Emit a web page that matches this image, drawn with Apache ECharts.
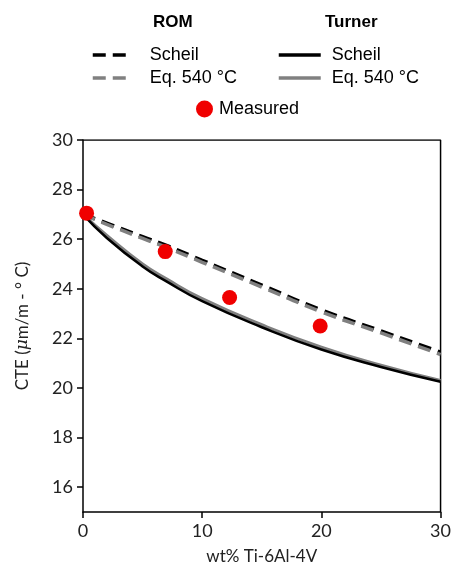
<!DOCTYPE html>
<html>
<head>
<meta charset="utf-8">
<script src="https://cdn.jsdelivr.net/npm/echarts@6/dist/echarts.min.js"></script>
<style>
    html, body { margin: 0; padding: 0; background: #fff; }
    #cte { width: 454px; height: 574px; }
</style>
</head>
<body>
<div id="cte"></div>
<script>
    // wt% Ti-6Al-4V
    const xPts = [0, 2, 5, 7, 10, 15, 20, 25, 30]
    // ROM
    const romScheil = [27.0, 26.65, 26.1, 25.75, 25.15, 24.15, 23.15, 22.3, 21.45]
    const romEq = [27.0, 26.6, 26.03, 25.67, 25.07, 24.07, 23.07, 22.22, 21.35]
    // Turner
    const turnerScheil = [27.0, 26.05, 24.9, 24.3, 23.5, 22.45, 21.55, 20.85, 20.25]
    const turnerEq = [27.0, 26.15, 25.0, 24.4, 23.6, 22.55, 21.65, 20.92, 20.3]
    // Measured
    const measX = [0.3, 6.9, 12.3, 19.9]
    const measY = [27.05, 25.5, 23.65, 22.5]
    const yTicks = [16, 18, 20, 22, 24, 26, 28, 30]

    const pairs = (xs, ys) => xs.map((x, i) => [x, ys[i]])
    const legendFont = {fontFamily: 'Liberation Sans', fontSize: 18, color: '#000'}

    const chart = echarts.init(document.getElementById('cte'))
    const option = {
        animation: false,
        graphic: [
            {type: 'text', left: 153, top: 14, style: {text: 'ROM', font: 'bold 17px "Liberation Sans"', fill: '#000'}},
            {type: 'text', left: 325, top: 14, style: {text: 'Turner', font: 'bold 17px "Liberation Sans"', fill: '#000'}}
        ],
        legend: [
            {
                data: ['ROM Scheil', 'ROM Eq'], orient: 'vertical', left: 86, top: 41,
                itemWidth: 38, itemHeight: 14, itemGap: 5,
                itemStyle: {opacity: 0},
                lineStyle: {width: 3.5},
                formatter: n => n === 'ROM Scheil' ? 'Scheil' : 'Eq. 540 °C',
                textStyle: Object.assign({padding: [0, 0, 0, 14]}, legendFont)
            },
            {
                data: ['Turner Scheil', 'Turner Eq'], orient: 'vertical', left: 272, top: 41,
                itemWidth: 42, itemHeight: 14, itemGap: 5,
                itemStyle: {opacity: 0},
                lineStyle: {width: 3.5},
                formatter: n => n === 'Turner Scheil' ? 'Scheil' : 'Eq. 540 °C',
                textStyle: Object.assign({padding: [0, 0, 0, 6]}, legendFont)
            },
            {
                data: ['Measured'], left: 191, top: 95,
                itemWidth: 17, itemHeight: 17,
                itemStyle: {opacity: 1},
                textStyle: Object.assign({padding: [0, 0, 0, 1]}, legendFont)
            }
        ],
        grid: {left: 83, right: 12, top: 140, bottom: 62},
        xAxis: {
            type: 'value', min: 0, max: 30, interval: 10,
            name: 'wt% Ti-6Al-4V', nameLocation: 'middle', nameGap: 36,
            nameTextStyle: {fontFamily: 'Lato', fontSize: 17, color: '#222'},
            axisLine: {onZero: false, lineStyle: {color: '#000', width: 1.5}},
            axisTick: {show: true, length: 6, lineStyle: {color: '#000', width: 1.5}},
            axisLabel: {fontFamily: 'Lato', fontSize: 18, color: '#222', margin: 10},
            splitLine: {show: false}
        },
        yAxis: {
            type: 'value', min: 15, max: 30, interval: 1,
            name: 'CTE ({i|μ}m/m - ° C)', nameLocation: 'middle', nameGap: 52,
            nameTextStyle: {fontFamily: 'Lato', fontSize: 17, color: '#222',
                rich: {i: {fontFamily: 'DejaVu Serif', fontStyle: 'italic', fontSize: 17, color: '#222'}}},
            axisLine: {lineStyle: {color: '#000', width: 1.5}},
            axisTick: {show: true, length: 6, lineStyle: {color: '#000', width: 1.5},
                customValues: yTicks},
            axisLabel: {fontFamily: 'Lato', fontSize: 18, color: '#222', margin: 10,
                customValues: yTicks},
            splitLine: {show: false}
        },
        series: [
            {
                name: 'ROM Scheil', type: 'line', smooth: true, symbol: 'none',
                data: pairs(xPts, romScheil), z: 2,
                itemStyle: {color: '#000'},
                lineStyle: {color: '#000', width: 3.5, type: [13, 7]}
            },
            {
                name: 'ROM Eq', type: 'line', smooth: true, symbol: 'none',
                data: pairs(xPts, romEq), z: 3,
                itemStyle: {color: '#808080'},
                lineStyle: {color: '#808080', width: 3.5, type: [13, 7]}
            },
            {
                name: 'Turner Scheil', type: 'line', smooth: true, symbol: 'none',
                data: pairs(xPts, turnerScheil), z: 3,
                itemStyle: {color: '#000'},
                lineStyle: {color: '#000', width: 2.5}
            },
            {
                name: 'Turner Eq', type: 'line', smooth: true, symbol: 'none',
                data: pairs(xPts, turnerEq), z: 2,
                itemStyle: {color: '#808080'},
                lineStyle: {color: '#808080', width: 3}
            },
            {
                name: 'Measured', type: 'scatter', symbol: 'circle', symbolSize: 15,
                data: pairs(measX, measY), z: 5,
                itemStyle: {color: '#f00000', opacity: 1}
            },
            {
                // frame: top and right spines
                type: 'line', symbol: 'none', silent: true, z: 1,
                data: [[0, 30], [30, 30], [30, 15]],
                lineStyle: {color: '#000', width: 1.5}
            }
        ]
    }
    chart.setOption(option)
    window.addEventListener('resize', () => chart.resize())
</script>
</body>
</html>
